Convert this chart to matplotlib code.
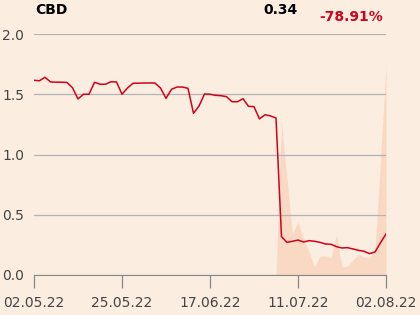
import matplotlib
matplotlib.use("Agg")
import matplotlib.pyplot as plt
import numpy as np

# closing prices, one per trading day from 02.05.22 to 02.08.22
price = [1.616, 1.612, 1.641, 1.602, 1.600, 1.600, 1.598, 1.554, 1.461, 1.500,
         1.500, 1.599, 1.583, 1.583, 1.604, 1.602, 1.500, 1.552, 1.591, 1.592,
         1.593, 1.594, 1.593, 1.552, 1.466, 1.541, 1.560, 1.560, 1.549, 1.342,
         1.402, 1.502, 1.500, 1.491, 1.488, 1.480, 1.438, 1.438, 1.463, 1.400,
         1.397, 1.295, 1.330, 1.320, 1.303, 0.318, 0.271, 0.280, 0.290, 0.274,
         0.285, 0.280, 0.271, 0.257, 0.255, 0.235, 0.224, 0.227, 0.216, 0.205,
         0.197, 0.177, 0.191, 0.268, 0.340]

# traded volume (relative units), no trading shown before the drop
volume = [0] * 44 + [0, 153, 95, 42, 53, 37, 23, 8, 19, 19,
                     17, 40, 8, 9, 15, 21, 18, 17, 25, 115, 210]

tick_pos = [0, 16, 32, 48, 64]
tick_labels = ["02.05.22", "25.05.22", "17.06.22", "11.07.22", "02.08.22"]

name = "CBD"
last_price = "0.34"
change = "-78.91%"

bg = "#fcede1"
x = np.arange(len(price))

fig = plt.figure(figsize=(4.2, 3.15), dpi=100, facecolor=bg)
pos = [34 / 420, 40 / 315, 352 / 420, 241 / 315]

### volume underneath the price line
ax_vol = fig.add_axes(pos)
ax_vol.set_facecolor(bg)
ax_vol.fill_between(x, volume, 0, color="#f9d9c3", linewidth=0)
ax_vol.set_ylim(0, 241)
ax_vol.set_xlim(0, len(price) - 1)
ax_vol.axis("off")

### price line
ax = fig.add_axes(pos, sharex=ax_vol)
ax.set_facecolor("none")
ax.plot(x, price, color="#d0021b", linewidth=1.1, zorder=3)
ax.set_ylim(0, 2.0)
ax.set_yticks([0.0, 0.5, 1.0, 1.5, 2.0])
ax.set_yticklabels(["0.0", "0.5", "1.0", "1.5", "2.0"])
ax.yaxis.grid(True, color="#b3b3b3", linewidth=0.9)
ax.set_axisbelow(True)
ax.set_xticks(tick_pos)
ax.set_xticklabels(tick_labels)

for s in ["top", "right", "left"]:
    ax.spines[s].set_visible(False)
ax.spines["bottom"].set_color("#888888")
ax.tick_params(axis="y", length=0, pad=7, labelsize=10, labelcolor="#444444")
ax.tick_params(axis="x", length=9, width=0.9, color="#888888", pad=6,
               labelsize=10, labelcolor="#444444")

### header texts
fig.text(35 / 420, 1 - 10 / 315, name, fontsize=10, fontweight="bold",
         color="black", va="center", ha="left")
fig.text(298 / 420, 1 - 9.5 / 315, last_price, fontsize=10, fontweight="bold",
         color="black", va="center", ha="right")
fig.text(383 / 420, 1 - 17 / 315, change, fontsize=10, fontweight="bold",
         color="#d0021b", va="center", ha="right")

fig.savefig("out.png", dpi=100, facecolor=bg)
